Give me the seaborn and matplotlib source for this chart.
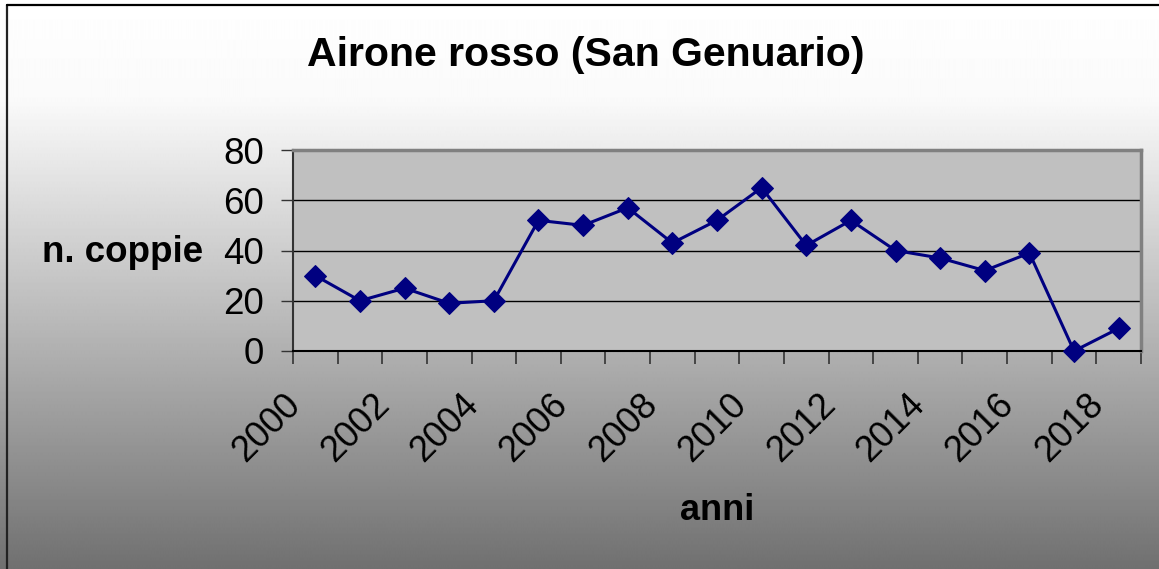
import numpy as np
import pandas as pd
import matplotlib
matplotlib.use("Agg")
import matplotlib.pyplot as plt
import matplotlib.transforms as mtransforms
import seaborn as sns

# data
years = list(range(2000, 2019))
coppie = [30, 20, 25, 19, 20, 52, 50, 57, 43, 52, 65, 42, 52, 40, 37, 32, 39, 0, 9]
label_years = years[::2]

df = pd.DataFrame({"anno": years, "coppie": coppie})

sns.set_style("white")
plt.rcParams["font.family"] = ["Liberation Sans", "DejaVu Sans"]
plt.rcParams["text.color"] = "black"
plt.rcParams["xtick.color"] = "black"
plt.rcParams["ytick.color"] = "black"
plt.rcParams["axes.labelcolor"] = "black"

fig = plt.figure(figsize=(11.59, 5.69), dpi=100)

# background gradient (white at top -> gray at bottom) with black frame
bg = fig.add_axes([0, 0, 1, 1], zorder=-10)
H = 569
rows = np.arange(H)
shade = np.interp(rows, [0, 100, 569], [1.0, 0.98, 0.44])
grad = np.repeat(shade[:, None], 10, axis=1)
bg.imshow(grad, cmap="gray", vmin=0, vmax=1, aspect="auto",
          extent=[0, 1, 0, 1], origin="upper")
bg.set_xlim(0, 1)
bg.set_ylim(0, 1)
bg.plot([7 / 1159, 7 / 1159], [0, 1 - 5 / 569], color="#222222", lw=1.6)
bg.plot([7 / 1159, 1], [1 - 5 / 569, 1 - 5 / 569], color="black", lw=1.6)
bg.axis("off")

ax = fig.add_axes([293 / 1159, 1 - 351 / 569, (1141 - 293) / 1159, (351 - 150) / 569])
ax.set_facecolor("#c0c0c0")

sns.lineplot(data=df, x="anno", y="coppie", ax=ax, color="#000080",
             linewidth=2.2, marker="D", markersize=11, markeredgecolor="#000080",
             zorder=5, clip_on=False)

ax.set_xlim(years[0] - 0.5, years[-1] + 0.5)
ax.set_ylim(0, 80)
ax.set_yticks([0, 20, 40, 60, 80])
ax.yaxis.grid(True, color="black", linewidth=1)
ax.set_axisbelow(True)

ax.set_xticks(label_years)
ax.set_xticks([y - 0.5 for y in years] + [years[-1] + 0.5], minor=True)
ax.tick_params(axis="x", which="major", length=0, pad=26)
ax.tick_params(axis="x", which="minor", length=9, width=1.2, color="#333333",
               direction="out", bottom=True)
ax.tick_params(axis="y", which="major", length=9, width=1, color="#333333",
               direction="out", left=True, labelsize=26.5, pad=12)
ax.set_xticklabels([str(y) for y in label_years], rotation=45, ha="right",
                   va="top", rotation_mode="anchor", fontsize=26)
# Excel puts the rotated year labels a bit left of the category centre
shift = mtransforms.ScaledTranslation(-33 / 100, 0, fig.dpi_scale_trans)
for lab in ax.get_xticklabels():
    lab.set_transform(lab.get_transform() + shift)

for side in ["top", "right"]:
    ax.spines[side].set_color("#808080")
    ax.spines[side].set_linewidth(2.5)
ax.spines["left"].set_color("#333333")
ax.spines["left"].set_linewidth(1.5)
ax.spines["bottom"].set_color("black")
ax.spines["bottom"].set_linewidth(1.5)

ax.set_xlabel("anni", fontsize=26, fontweight="bold")
ax.xaxis.set_label_coords(0.5, (351 - 510) / 201)
ax.xaxis.label.set_va("center")
ax.set_ylabel("n. coppie", fontsize=26.5, fontweight="bold", rotation=0,
              ha="right", va="center")
ax.yaxis.set_label_coords((203 - 293) / 848, (351 - 252) / 201)

fig.text(586 / 1159, 1 - 55 / 569, "Airone rosso (San Genuario)",
         fontsize=29.5, fontweight="bold", ha="center", va="center")

fig.savefig("out.png", dpi=100)
